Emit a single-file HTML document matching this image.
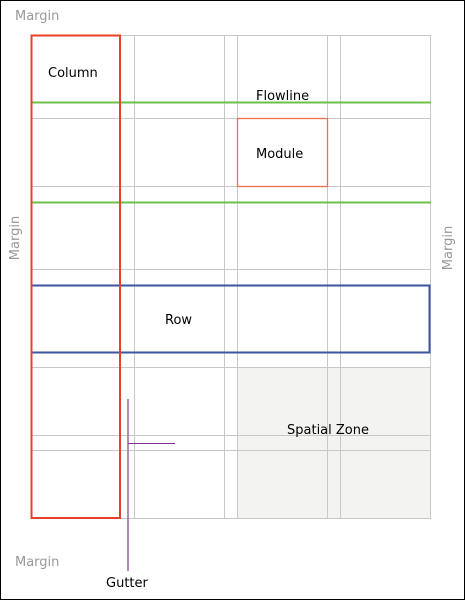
<!DOCTYPE html>
<html><head><meta charset="utf-8"><style>
html,body{margin:0;padding:0;background:#fff}
svg{display:block}
text{font-family:"DejaVu Sans","Liberation Sans",sans-serif;font-size:13px}
</style></head><body>
<svg width="465" height="600" viewBox="0 0 465 600">
<rect x="0.5" y="0.5" width="464" height="599" fill="#fff" stroke="#000" stroke-width="1"/>
<rect x="237" y="367" width="194" height="151" fill="#f3f3f2"/>
<g stroke="#c8c8c8" stroke-width="1">
<line x1="31.5" y1="35" x2="31.5" y2="518"/>
<line x1="134.5" y1="35" x2="134.5" y2="518"/>
<line x1="224.5" y1="35" x2="224.5" y2="518"/>
<line x1="237.5" y1="35" x2="237.5" y2="518"/>
<line x1="327.5" y1="35" x2="327.5" y2="518"/>
<line x1="340.5" y1="35" x2="340.5" y2="518"/>
<line x1="430.5" y1="35" x2="430.5" y2="518"/>
<line x1="31" y1="35.5" x2="431" y2="35.5"/>
<line x1="31" y1="118.5" x2="431" y2="118.5"/>
<line x1="31" y1="186.5" x2="431" y2="186.5"/>
<line x1="31" y1="269.5" x2="431" y2="269.5"/>
<line x1="31" y1="367.5" x2="431" y2="367.5"/>
<line x1="31" y1="435.5" x2="431" y2="435.5"/>
<line x1="31" y1="450.5" x2="431" y2="450.5"/>
<line x1="31" y1="518.5" x2="431" y2="518.5"/>
</g>
<line x1="31" y1="102.5" x2="431" y2="102.5" stroke="#6cc04a" stroke-width="2"/>
<line x1="31" y1="202.5" x2="431" y2="202.5" stroke="#6cc04a" stroke-width="2"/>
<rect x="237.5" y="118.5" width="90" height="68" fill="none" stroke="#f07050" stroke-width="1.3"/>
<rect x="31.5" y="285.5" width="398" height="67" fill="none" stroke="#3b55a0" stroke-width="2"/>
<rect x="31.5" y="35.5" width="88.5" height="482.5" fill="none" stroke="#e8402a" stroke-width="2"/>
<line x1="128" y1="399" x2="128" y2="571" stroke="#a060b0" stroke-width="1.5"/>
<line x1="128" y1="443.5" x2="175" y2="443.5" stroke="#803090" stroke-width="1"/>
<text x="15" y="20" fill="#999">Margin</text>
<text x="15" y="566" fill="#999">Margin</text>
<text x="19" y="238" fill="#999" text-anchor="middle" transform="rotate(-90 19 238)">Margin</text>
<text x="452" y="248" fill="#999" text-anchor="middle" transform="rotate(-90 452 248)">Margin</text>
<text x="48" y="77" fill="#000">Column</text>
<text x="256" y="100" fill="#000">Flowline</text>
<text x="256" y="158" fill="#000">Module</text>
<text x="165" y="324" fill="#000">Row</text>
<text x="287" y="434" fill="#000">Spatial Zone</text>
<text x="106" y="587" fill="#000">Gutter</text>
</svg>
</body></html>
